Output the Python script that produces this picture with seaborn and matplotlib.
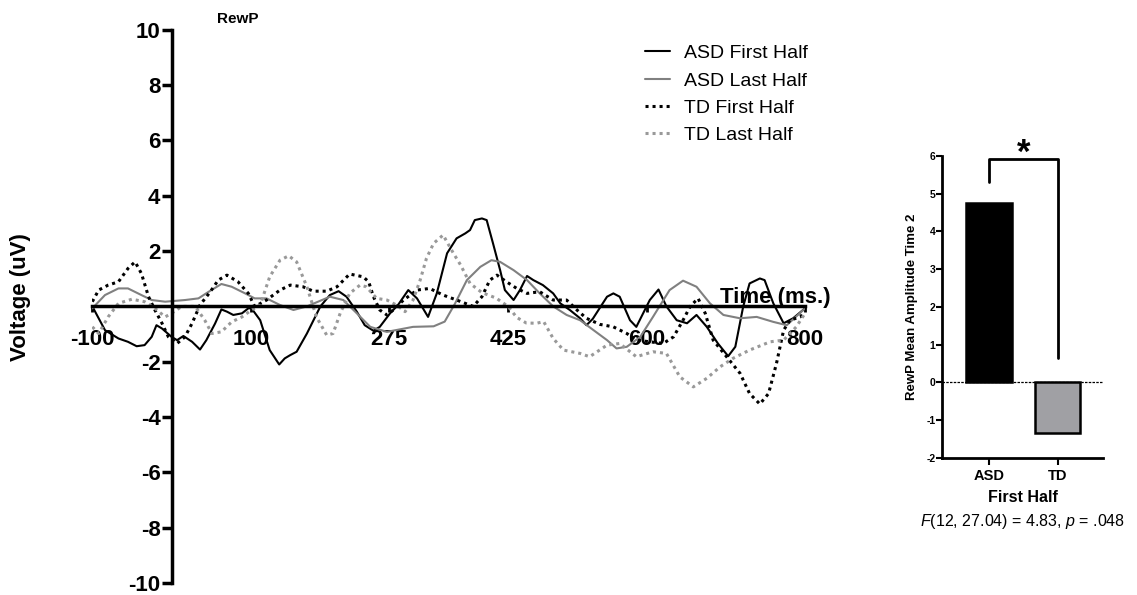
import numpy as np
import pandas as pd
import matplotlib
matplotlib.use("Agg")
import matplotlib.pyplot as plt
import seaborn as sns

# ---- waveform data (ms, uV) ----
asd_first_t = [-100, -92, -84, -67, -55, -44, -34, -25, -19, -12, 0, 7, 15, 26, 36, 44, 55, 63, 70, 78,
               89, 97, 101, 112, 124, 136, 143, 150, 158, 171, 188, 200, 211, 221, 234, 244, 255, 263,
               276, 286, 299, 310, 324, 335, 348, 356, 360, 371, 377, 383, 392, 398, 406, 415, 421, 432,
               440, 449, 457, 469, 482, 491, 503, 516, 524, 532, 541, 550, 558, 566, 579, 587, 604, 615,
               625, 638, 651, 663, 676, 690, 703, 712, 722, 730, 743, 749, 760, 773, 785, 800]
asd_first_v = [0.0, -0.43, -0.86, -1.16, -1.28, -1.44, -1.40, -1.10, -0.68, -0.80, -1.10, -1.22, -1.07,
               -1.28, -1.56, -1.22, -0.62, -0.11, -0.19, -0.31, -0.25, -0.07, -0.07, -0.50, -1.58, -2.10,
               -1.88, -1.76, -1.64, -0.98, 0.0, 0.41, 0.55, 0.35, -0.19, -0.68, -0.88, -0.74, -0.25, 0.05,
               0.59, 0.29, -0.38, 0.47, 1.92, 2.28, 2.46, 2.64, 2.76, 3.12, 3.18, 3.12, 2.28, 1.31, 0.59,
               0.23, 0.59, 1.10, 0.95, 0.77, 0.47, 0.11, -0.13, -0.43, -0.68, -0.45, -0.05, 0.35, 0.47,
               0.35, -0.50, -0.74, 0.23, 0.61, 0.0, -0.50, -0.61, -0.31, -0.74, -1.34, -1.80, -1.46, 0.0,
               0.83, 1.01, 0.95, 0.11, -0.61, -0.43, -0.07]

asd_last_t = [-100, -84, -67, -55, -38, -25, -8, 17, 34, 47, 63, 76, 93, 105, 120, 137, 154, 171, 200,
              217, 234, 251, 272, 305, 331, 345, 358, 373, 390, 404, 415, 432, 449, 465, 482, 499, 516,
              533, 550, 562, 575, 592, 608, 629, 646, 663, 680, 697, 718, 739, 760, 777, 800]
asd_last_v = [-0.07, 0.41, 0.65, 0.65, 0.41, 0.23, 0.17, 0.23, 0.29, 0.53, 0.81, 0.71, 0.47, 0.29, 0.29,
              0.05, -0.13, 0.0, 0.35, 0.23, -0.25, -0.74, -0.92, -0.74, -0.72, -0.55, 0.10, 0.95, 1.43,
              1.67, 1.61, 1.31, 0.95, 0.47, 0.0, -0.31, -0.50, -0.86, -1.22, -1.52, -1.46, -1.10, -0.38,
              0.59, 0.93, 0.71, 0.11, -0.31, -0.43, -0.38, -0.56, -0.68, -0.07]

td_first_t = [-100, -92, -80, -67, -55, -46, -38, -29, -21, -12, -4, 7, 17, 26, 36, 49, 59, 70, 84, 97,
              105, 112, 120, 137, 150, 166, 179, 196, 209, 225, 242, 249, 255, 263, 272, 280, 293, 310,
              326, 343, 360, 381, 392, 402, 411, 423, 436, 449, 465, 482, 499, 512, 524, 541, 558, 575,
              587, 604, 621, 634, 646, 655, 665, 674, 684, 701, 718, 730, 743, 754, 764, 773, 781, 794, 800]
td_first_v = [0.17, 0.59, 0.77, 0.89, 1.37, 1.61, 1.19, 0.35, -0.13, -0.61, -1.10, -1.34, -1.10, -0.61,
              0.05, 0.53, 0.95, 1.13, 0.89, 0.47, 0.0, 0.10, 0.23, 0.59, 0.77, 0.71, 0.55, 0.55, 0.71,
              1.17, 1.07, 0.89, 0.35, -0.13, -0.31, -0.13, 0.23, 0.59, 0.65, 0.41, 0.23, 0.0, 0.35, 0.95,
              1.13, 0.89, 0.65, 0.47, 0.53, 0.23, 0.23, -0.13, -0.43, -0.65, -0.74, -0.98, -1.22, -1.28,
              -1.34, -1.10, -0.50, 0.0, 0.29, -0.25, -1.22, -1.82, -2.42, -3.15, -3.53, -3.15, -2.06,
              -0.86, -0.50, -0.38, -0.19]

td_last_t = [-100, -92, -80, -67, -50, -34, -21, -8, 0, 13, 30, 42, 51, 63, 76, 89, 101, 112, 124, 137,
             148, 158, 171, 183, 196, 204, 213, 225, 238, 246, 259, 272, 284, 295, 305, 314, 322, 331,
             343, 356, 365, 377, 392, 410, 425, 436, 448, 461, 470, 482, 495, 516, 528, 550, 566, 587,
             608, 625, 642, 659, 676, 693, 709, 730, 756, 773, 789, 800]
td_last_v = [-0.74, -0.98, -0.38, 0.11, 0.26, 0.17, -0.07, -0.38, -0.25, 0.0, 0.0, -0.50, -0.98, -0.92,
             -0.56, -0.38, -0.13, 0.05, 1.07, 1.67, 1.83, 1.61, 0.71, -0.38, -1.04, -0.98, -0.25, 0.47,
             0.77, 0.71, 0.29, 0.23, 0.05, -0.19, 0.23, 0.95, 1.74, 2.28, 2.58, 1.92, 1.50, 0.83, 0.50,
             0.30, 0.0, -0.40, -0.60, -0.61, -0.55, -1.16, -1.58, -1.70, -1.82, -1.40, -1.34, -1.82,
             -1.64, -1.70, -2.55, -2.91, -2.60, -2.18, -1.88, -1.58, -1.28, -1.22, -0.74, -0.25]

x_ticks = [-100, 100, 275, 425, 600, 800]
y_ticks = [-10, -8, -6, -4, -2, 2, 4, 6, 8, 10]

# ---- bar data ----
bar_groups = ["ASD", "TD"]
bar_values = [4.75, -1.34]
bar_colors = ["#000000", "#a0a0a4"]

sns.set_style("white")
plt.rcParams["font.family"] = ["Liberation Sans", "DejaVu Sans"]
plt.rcParams["mathtext.fontset"] = "custom"
plt.rcParams["mathtext.rm"] = "Liberation Sans"
plt.rcParams["mathtext.it"] = "Liberation Sans:italic"
for k in ["text.color", "axes.labelcolor", "xtick.color", "ytick.color"]:
    plt.rcParams[k] = "black"

fig = plt.figure(figsize=(11.37, 5.95), dpi=100)

# ---------------- waveform panel ----------------
ax = fig.add_axes([0.0812, 0.0202, 0.6268, 0.9297])
series = [
    ("ASD First Half", asd_first_t, asd_first_v, "black", "-", 1.5),
    ("ASD Last Half", asd_last_t, asd_last_v, "#808080", "-", 1.5),
    ("TD First Half", td_first_t, td_first_v, "black", (0, (1, 1.3)), 2.2),
    ("TD Last Half", td_last_t, td_last_v, "#999999", (0, (1, 1.3)), 2.2),
]
for name, t, v, col, ls, lw in series:
    sns.lineplot(x=t, y=v, ax=ax, color=col, linestyle=ls, linewidth=lw, label=name)

ax.set_xlim(-100, 800)
ax.set_ylim(-10, 10)
for s in ["top", "right"]:
    ax.spines[s].set_visible(False)
ax.spines["left"].set_position(("data", 0))
ax.spines["bottom"].set_position(("data", 0))
for s in ["left", "bottom"]:
    ax.spines[s].set_linewidth(2.5)
    ax.spines[s].set_color("black")
ax.set_xticks(x_ticks)
ax.set_yticks(y_ticks)
ax.set_xticklabels([str(x) for x in x_ticks], fontsize=16, fontweight="bold")
ax.set_yticklabels([str(y) for y in y_ticks], fontsize=16, fontweight="bold")
ax.tick_params(axis="x", direction="out", length=4, width=2, pad=12, bottom=True)
ax.tick_params(axis="y", direction="out", length=7, width=2.5, pad=1, left=True)
ax.set_xlabel("")
ax.set_ylabel("")

ax.text(763, 0.12, "Time (ms.)", ha="center", va="baseline", fontsize=16,
        fontweight="bold", clip_on=False)
fig.text(0.018, 0.5, "Voltage (uV)", rotation=90, ha="center", va="center",
         fontsize=16, fontweight="bold")
fig.text(0.209, 0.968, "RewP", ha="center", va="center", fontsize=11, fontweight="bold")

leg = ax.legend(loc="upper left", bbox_to_anchor=(0.567, 0.925), bbox_transform=fig.transFigure,
                frameon=False, fontsize=14, handlelength=1.3, handletextpad=0.7,
                labelspacing=0.5, borderpad=0, borderaxespad=0)

# ---------------- bar panel ----------------
ax2 = fig.add_axes([0.8288, 0.2303, 0.1411, 0.5076])
sns.barplot(x=bar_groups, y=bar_values, hue=bar_groups, palette=bar_colors, legend=False,
            width=0.66, edgecolor="black", linewidth=1.8, ax=ax2)
ax2.set_xlim(-0.68, 1.66)
ax2.set_ylim(-2, 6)
ax2.axhline(0, color="black", lw=0.9, ls=(0, (2, 1)), zorder=0.5)
for s in ["top", "right"]:
    ax2.spines[s].set_visible(False)
for s in ["left", "bottom"]:
    ax2.spines[s].set_linewidth(2)
    ax2.spines[s].set_color("black")
ax2.set_yticks(range(-2, 7))
ax2.set_yticklabels([str(y) for y in range(-2, 7)], fontsize=7.5, fontweight="bold")
ax2.set_xticks([0, 1])
ax2.set_xticklabels(bar_groups, fontsize=10.5, fontweight="bold")
ax2.tick_params(axis="y", direction="out", length=4, width=1.5, pad=1, left=True)
ax2.tick_params(axis="x", direction="out", length=5, width=1.5, pad=3, bottom=True)
ax2.set_xlabel("First Half", fontsize=11.5, fontweight="bold", labelpad=5)
ax2.set_ylabel("RewP Mean Amplitude Time 2", fontsize=9.5, fontweight="bold", labelpad=6)

ax2.plot([0, 0, 1, 1], [5.3, 5.93, 5.93, 0.66], color="black", lw=2, clip_on=False)
ax2.text(0.5, 5.62, "*", ha="center", va="bottom", fontsize=25, fontweight="bold", clip_on=False)

fig.text(0.899, 0.123, r"$F$(12, 27.04) = 4.83, $p$ = .048", ha="center", va="center", fontsize=11.5)

fig.savefig("out.png", dpi=100)
